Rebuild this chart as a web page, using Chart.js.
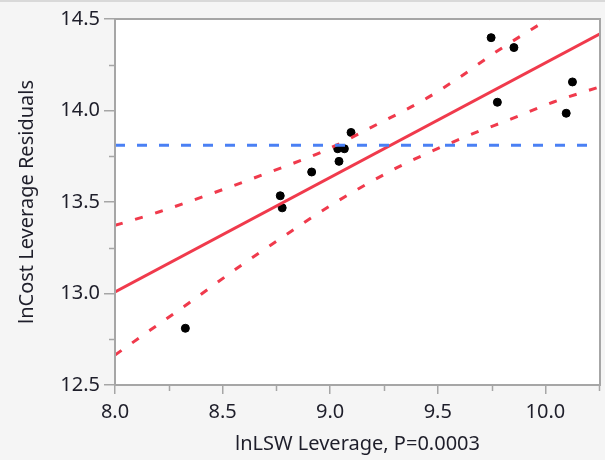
<!DOCTYPE html>
<html>
<head>
<meta charset="utf-8">
<script src="https://cdn.jsdelivr.net/npm/chart.js@4"></script>
<style>
  html, body { margin: 0; padding: 0; background: #f5f5f5; }
  #wrap { width: 605px; height: 460px; }
</style>
</head>
<body>
<div id="wrap"><canvas id="leverageChart" width="605" height="460"></canvas></div>
<script>
// leverage plot values
const lnLSW = [8.327, 8.768, 8.777, 8.914, 9.035, 9.041, 9.066, 9.097, 9.748, 9.777, 9.854, 10.097, 10.126];
const lnCostResid = [12.81, 13.534, 13.468, 13.664, 13.791, 13.722, 13.791, 13.88, 14.398, 14.045, 14.344, 13.985, 14.156];

const fitX = [8.0, 10.254];
const fitY = [13.009, 14.419];

const meanX = [8.0, 10.254];
const meanY = [13.81, 13.81];

const upperX = [8.0, 8.21, 8.782, 8.968, 9.231, 9.424, 9.597, 9.764, 9.935, 10.03];
const upperY = [13.372, 13.448, 13.691, 13.777, 13.932, 14.05, 14.178, 14.315, 14.443, 14.51];

const lowerX = [8.0, 8.164, 8.342, 8.59, 8.76, 9.007, 9.277, 9.37, 9.64, 9.842, 10.035, 10.254];
const lowerY = [12.664, 12.8, 12.947, 13.157, 13.293, 13.485, 13.667, 13.722, 13.862, 13.954, 14.045, 14.13];

const xMinorTicks = [8.25, 8.75, 9.25, 9.75, 10.25];
const yMinorTicks = [12.75, 13.25, 13.75, 14.25];

const RED = "#f03a4c";
const BLUE = "#4a80f4";
const AXIS_GRAY = "#a6a6a6";
const TEXT = "#1e1e2a";
const FONT = "'Noto Sans', 'Open Sans', sans-serif";

const toPoints = (xs, ys) => xs.map((x, i) => ({ x, y: ys[i] }));

const framePlugin = {
  id: "frame",
  beforeDraw(chart) {
    const { ctx, chartArea: a } = chart;
    ctx.save();
    ctx.fillStyle = "#d9d9d9";
    ctx.fillRect(0, 0, chart.width, 2);
    ctx.fillStyle = "#ffffff";
    ctx.fillRect(a.left, a.top, a.right - a.left, a.bottom - a.top);
    ctx.restore();
  },
  afterDraw(chart) {
    const { ctx, chartArea: a, scales } = chart;
    ctx.save();
    ctx.strokeStyle = AXIS_GRAY;
    ctx.lineWidth = 2;
    ctx.strokeRect(a.left, a.top, a.right - a.left, a.bottom - a.top);

    // minor ticks
    ctx.lineWidth = 1.5;
    ctx.beginPath();
    xMinorTicks.forEach((v) => {
      const px = Math.round(scales.x.getPixelForValue(v)) + 0.5;
      if (px > a.right) return;
      ctx.moveTo(px, a.bottom);
      ctx.lineTo(px, a.bottom + 6);
    });
    yMinorTicks.forEach((v) => {
      const py = Math.round(scales.y.getPixelForValue(v)) + 0.5;
      ctx.moveTo(a.left, py);
      ctx.lineTo(a.left - 6, py);
    });
    ctx.stroke();
    ctx.restore();
  },
};

new Chart(document.getElementById("leverageChart"), {
  type: "scatter",
  data: {
    datasets: [
      {
        label: "Mean",
        data: toPoints(meanX, meanY),
        showLine: true,
        borderColor: BLUE,
        borderWidth: 3,
        borderDash: [10, 12],
        pointRadius: 0,
        fill: false,
      },
      {
        label: "Upper",
        data: toPoints(upperX, upperY),
        showLine: true,
        borderColor: RED,
        borderWidth: 3,
        borderDash: [8, 13],
        cubicInterpolationMode: "monotone",
        pointRadius: 0,
        fill: false,
      },
      {
        label: "Lower",
        data: toPoints(lowerX, lowerY),
        showLine: true,
        borderColor: RED,
        borderWidth: 3,
        borderDash: [8, 13],
        cubicInterpolationMode: "monotone",
        pointRadius: 0,
        fill: false,
      },
      {
        label: "Fit",
        data: toPoints(fitX, fitY),
        showLine: true,
        borderColor: RED,
        borderWidth: 3,
        pointRadius: 0,
        fill: false,
      },
      {
        label: "Residuals",
        data: toPoints(lnLSW, lnCostResid),
        backgroundColor: "#000000",
        borderColor: "#000000",
        pointRadius: 4,
        pointHoverRadius: 4,
      },
    ],
  },
  options: {
    responsive: false,
    animation: false,
    layout: { padding: { top: 19, right: 5, left: 0, bottom: 0 } },
    plugins: {
      legend: { display: false },
      tooltip: { enabled: false },
    },
    scales: {
      x: {
        type: "linear",
        min: 8.0,
        max: 10.254,
        afterFit: (s) => { s.height = 75; },
        grid: {
          drawOnChartArea: false,
          color: AXIS_GRAY,
          lineWidth: 1.5,
          tickLength: 9,
        },
        border: { display: false },
        ticks: {
          stepSize: 0.5,
          includeBounds: false,
          padding: 6,
          color: TEXT,
          font: { family: FONT, size: 20 },
          callback: (v) => v.toFixed(1),
        },
        title: {
          display: true,
          text: "lnLSW Leverage, P=0.0003",
          color: TEXT,
          font: { family: FONT, size: 20 },
          padding: { top: 2 },
        },
      },
      y: {
        type: "linear",
        min: 12.5,
        max: 14.5,
        afterFit: (s) => { s.width = 115; },
        grid: {
          drawOnChartArea: false,
          color: AXIS_GRAY,
          lineWidth: 1.5,
          tickLength: 11,
        },
        border: { display: false },
        ticks: {
          stepSize: 0.5,
          padding: 4,
          color: TEXT,
          font: { family: FONT, size: 20 },
          callback: (v) => v.toFixed(1),
        },
        title: {
          display: true,
          text: "lnCost Leverage Residuals",
          color: TEXT,
          font: { family: FONT, size: 20 },
          padding: { top: 15, bottom: 0 },
        },
      },
    },
  },
  plugins: [framePlugin],
});
</script>
</body>
</html>
